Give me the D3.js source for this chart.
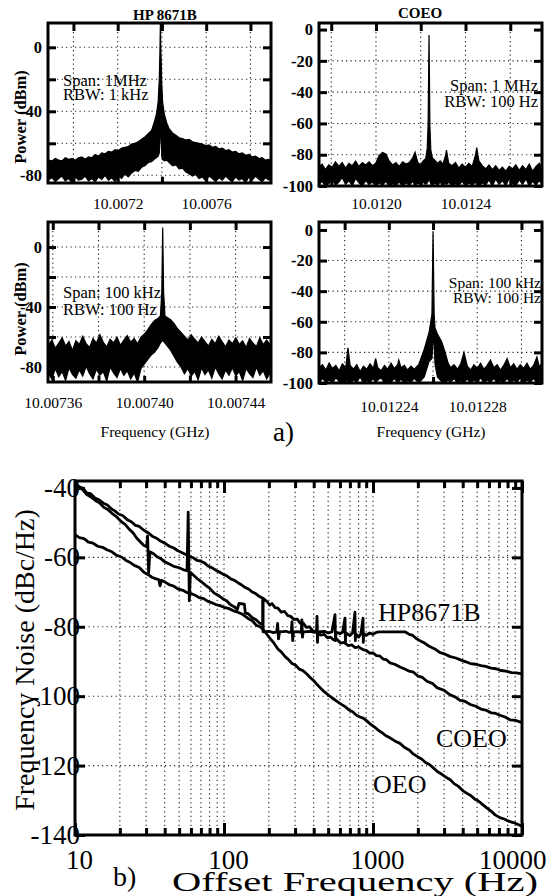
<!DOCTYPE html>
<html>
<head>
<meta charset="utf-8">
<script src="https://cdn.jsdelivr.net/npm/d3@7/dist/d3.min.js"></script>
<style>
  body { margin: 0; background: #fff; }
  svg { display: block; }
  text { font-family: "Liberation Serif", "Times New Roman", serif; fill: #000; }
</style>
</head>
<body>
<svg id="fig" width="548" height="896"></svg>
<script>
// ---------- a) spectrum analyser traces ----------
// rows: [offset from carrier in kHz, upper edge of the noisy trace, lower edge] (dBm)
var hpWideCarrier = 10.007393;
var hpWide = [[-508,-70.5,-83],[-490,-71,-81.5],[-475,-69.5,-84],[-460,-70.5,-82],[-445,-71,-80.5],[-430,-69,-83.5],[-415,-70,-82],[-400,-69.5,-84.5],[-385,-70.5,-81],[-370,-69,-83],[-355,-68.5,-82.5],[-340,-70,-80.5],[-325,-68.5,-83.5],[-310,-69,-82],[-295,-67,-84],[-280,-68,-81],[-265,-66,-82.5],[-250,-66.5,-80],[-235,-65,-83],[-220,-65.5,-81.5],[-205,-64,-84],[-190,-64.5,-80.5],[-175,-63,-82],[-160,-62.5,-79],[-145,-62,-81],[-130,-60.5,-78.5],[-115,-60,-77],[-100,-59,-77.5],[-85,-57.5,-75],[-70,-56,-74],[-55,-54,-72],[-40,-52,-71.5],[-28,-47,-70],[-18,-42,-69],[-10,-34,-68],[-5,-20,-66],[-2,-2,-60],[0,15,-55],[2,-2,-44],[4,-10,-46],[6,-22,-68],[10,-34,-70],[18,-42,-71],[28,-47,-70.5],[40,-51,-72],[55,-53.5,-74],[70,-55,-73.5],[85,-56.5,-76],[100,-57,-75.5],[115,-58,-78],[130,-57.5,-79],[145,-59,-80.5],[160,-59.5,-79.5],[175,-60,-82],[190,-60.5,-81],[205,-61.5,-83.5],[220,-61,-80.5],[235,-62.5,-82],[250,-62,-84],[265,-63.5,-81.5],[280,-63,-83],[295,-64.5,-80.5],[310,-64,-82.5],[325,-65.5,-84],[340,-65,-81],[355,-66.5,-83],[370,-66,-82],[385,-67.5,-84.5],[400,-67,-81],[415,-68.5,-83],[430,-68,-80.5],[445,-69.5,-82.5],[460,-69,-84],[475,-70.5,-81.5],[490,-70,-83],[500,-71.5,-82]];

var coeoWideCarrier = 10.012237;
var coeoWide = [[-492,-88,-99],[-478,-86,-97],[-463,-89.5,-100],[-448,-86.5,-98.5],[-433,-88,-96],[-418,-84.5,-99.5],[-403,-87.5,-97.5],[-388,-85,-94.5],[-373,-88.5,-99],[-358,-85.5,-96.5],[-343,-87,-100],[-328,-84,-95],[-313,-87.5,-98],[-298,-85,-100],[-283,-86.5,-96.5],[-268,-84.5,-99],[-253,-87,-97.5],[-238,-85.5,-100],[-223,-80.5,-98],[-208,-78.5,-99.5],[-193,-79.5,-97],[-178,-84,-100],[-163,-86.5,-98.5],[-148,-85,-99.5],[-133,-87.5,-97.5],[-118,-84.5,-100],[-103,-86,-98],[-88,-85,-99.5],[-73,-82,-97],[-62,-78.5,-100],[-50,-85,-98],[-38,-86.5,-99.5],[-26,-84,-97.5],[-15,-82.5,-99],[-8,-76,-98],[-4,-60,-97],[-1.5,-25,-96],[0,-3.5,-95],[1.5,-25,-96],[4,-62,-97],[8,-77,-98.5],[15,-82,-100],[26,-83.5,-98],[38,-85.5,-99.5],[50,-84,-97.5],[62,-86,-100],[73,-81,-98],[78,-77,-99],[88,-85.5,-97.5],[103,-87,-100],[118,-85,-98.5],[133,-88.5,-99.5],[148,-86,-97],[163,-88,-100],[178,-85.5,-98],[193,-87.5,-99.5],[208,-80,-97.5],[213,-75.5,-99],[223,-84,-100],[238,-87,-98],[253,-89,-99.5],[268,-86.5,-96],[283,-89.5,-100],[298,-87,-95.5],[313,-90,-99],[328,-88,-96.5],[343,-90.5,-100],[358,-87.5,-95],[373,-89,-98.5],[388,-86.5,-100],[403,-90,-96],[418,-87,-99],[433,-89.5,-95.5],[448,-86,-100],[463,-90.5,-97],[478,-87.5,-99.5],[493,-85.5,-96.5],[505,-89,-99]];

var hpNarrowCarrier = 10.0074081;
var hpNarrow = [[-50.2,-66,-84],[-48.5,-62,-88],[-47,-67.5,-81],[-45.5,-64,-86.5],[-44,-60.5,-83],[-42.5,-66,-89],[-41,-63,-80.5],[-39.5,-69,-85],[-38,-62.5,-87.5],[-36.5,-65,-82],[-35,-59.5,-86],[-33.5,-64.5,-79.5],[-32,-67,-84.5],[-30.5,-61,-88],[-29,-64,-81.5],[-27.5,-58.5,-85.5],[-26,-63.5,-83],[-24.5,-66.5,-89.5],[-23,-61.5,-80],[-21.5,-64,-84],[-20,-60,-87],[-18.5,-65.5,-81],[-17,-62,-85.5],[-15.5,-59,-82.5],[-14,-63.5,-88],[-12.5,-61,-84],[-11,-64.5,-90],[-9.5,-60,-81],[-8,-58,-78],[-6.5,-55,-75],[-5,-51.5,-72],[-3.5,-49,-70],[-2,-47.5,-67],[-1,-46,-64],[-0.4,-30,-63],[0,13,-62],[0.4,-30,-63],[1,-46,-64],[2,-47,-66],[3.5,-48.5,-69],[5,-51,-73],[6.5,-54.5,-77],[8,-57,-80],[9.5,-59.5,-84.5],[11,-62,-81],[12.5,-58.5,-86],[14,-61.5,-83],[15.5,-64,-88.5],[17,-60,-80.5],[18.5,-63,-85],[20,-66,-82],[21.5,-61.5,-87.5],[23,-64.5,-80],[24.5,-59.5,-84.5],[26,-63,-88],[27.5,-66.5,-82],[29,-62,-85.5],[30.5,-64.5,-80.5],[32,-60.5,-86],[33.5,-65,-83],[35,-62.5,-89],[36.5,-67,-81],[38,-61,-84.5],[39.5,-64,-87],[41,-66.5,-80],[42.5,-60.5,-85.5],[44,-65,-82.5],[45.5,-62,-88],[47.4,-66,-83]];

var coeoNarrowCarrier = 10.01226;
var coeoNarrow = [[-51.6,-90,-100],[-50,-88,-97],[-48.5,-91.5,-99.5],[-47,-87,-98],[-45.5,-90.5,-100],[-44,-88.5,-96.5],[-42.5,-92,-99],[-41,-87.5,-100],[-39.5,-90,-97.5],[-38.5,-77,-99],[-37.5,-88.5,-100],[-36,-91,-98],[-34.5,-88,-99.5],[-33,-92.5,-96],[-31.5,-89,-100],[-30,-91,-98.5],[-28.5,-87.5,-99.5],[-27,-90.5,-97],[-26,-84,-100],[-25,-90,-98],[-23.5,-92,-96.5],[-22,-88.5,-100],[-20.5,-91,-98.5],[-19,-87,-99.5],[-17.5,-90.5,-97],[-16,-88,-100],[-15.5,-85,-99],[-14.5,-90,-97.5],[-13,-88.5,-100],[-11.5,-91.5,-98.5],[-10,-89,-99.5],[-8.5,-91,-97],[-6.5,-88,-100],[-4,-78,-96],[-1.8,-67,-86],[-0.5,-55,-84],[0,-1.3,-72],[0.5,-55,-74],[0.9,-64,-88],[2,-68,-96],[3.9,-73,-99],[5.5,-80,-100],[6.8,-87,-98],[8,-90,-99.5],[9.5,-88,-97],[11,-91,-100],[12.5,-87.5,-98.5],[14,-80,-99.5],[15.5,-89,-97.5],[17,-91.5,-100],[18.5,-88,-98],[20,-90.5,-99.5],[21.5,-87,-96.5],[23,-91,-100],[24.5,-88.5,-98],[26,-85,-99.5],[27.5,-90,-97],[29,-88,-100],[30.5,-91.5,-98.5],[32,-88.5,-99.5],[33.5,-84,-97],[35,-90,-100],[36.5,-87.5,-98],[38,-91,-99.5],[39.5,-88,-96.5],[41,-90.5,-100],[42.5,-87,-98],[44,-91,-99.5],[45.5,-88.5,-97],[47,-83,-100],[48,-89,-98.5],[49.3,-87.5,-99.5]];

// axis ticks (GHz / dBm)
var hpWideTicks = [10.0070, 10.0072, 10.0074, 10.0076, 10.0078];
var hpWideLabels = [10.0072, 10.0076];
var coeoWideTicks = [10.0118, 10.0120, 10.0122, 10.0124, 10.0126];
var coeoWideLabels = [10.0120, 10.0124];
var hpNarrowTicks = [10.00736, 10.00738, 10.00740, 10.00742, 10.00744];
var hpNarrowLabels = [10.00736, 10.00740, 10.00744];
var coeoNarrowTicks = [10.01222, 10.01224, 10.01226, 10.01228, 10.01230];
var coeoNarrowLabels = [10.01224, 10.01228];
var hpPowerTicks = [0, -20, -40, -60, -80];
var hpPowerLabels = [0, -40, -80];
var coeoPowerTicks = [0, -20, -40, -60, -80, -100];
var coeoPowerGrid = [-20, -40, -60, -80];

// ---------- b) frequency noise, [offset Hz, dBc/Hz] ----------
var hpNoise = [[10,-38.5],[10.6,-39.6],[11.3,-40.1],[12,-41.4],[12.8,-41.7],[13.6,-42.9],[14.5,-43.4],[15.5,-44.4],[16.5,-44.9],[17.5,-46],[18.5,-46.6],[19.6,-47.5],[21,-48],[22.5,-49.2],[24,-49.8],[25.5,-50.8],[27,-51.1],[29,-52.2],[31,-52.9],[33,-53.9],[35,-54.4],[37.5,-55.3],[40,-55.9],[43,-56.8],[46,-57.3],[49,-58.1],[52,-58.6],[55,-59.1],[58.5,-59.7],[62,-60.1],[66,-60.9],[70,-61.1],[74,-61.6],[78,-62.5],[83,-63],[88,-63.7],[93,-64.2],[99,-64.9],[105,-65.4],[111,-66.2],[117,-66.6],[124,-67.3],[131,-67.9],[139,-68.7],[147,-69.2],[155,-70],[164,-70.5],[173,-71.3],[182,-71.8],
  [183,-81.5],[200,-81.3],[215,-81.7],[226,-81.5],[229,-79],[232,-83.5],[236,-81.5],[260,-81.3],[275,-81.6],[283,-81.5],[286,-78.5],[289,-84],[293,-81.5],[315,-81.4],[330,-81.6],[333,-78],[336,-83],[340,-81.5],[380,-81.3],[405,-81.6],[418,-81.5],[421,-77],[424,-84.5],[428,-81.5],[470,-81.3],[500,-81.8],[530,-81.5],[556,-76.5],[560,-84],[565,-81.5],[600,-82],[625,-81.6],[649,-77.5],[653,-84.5],[658,-81.8],[700,-82.5],[730,-81.7],[757,-75.8],[761,-84],[766,-82],[800,-83],[830,-82],[857,-77.5],[861,-84.5],[866,-82],[900,-82.5],[950,-81.8],[1000,-82.2],[1050,-81.6],[1100,-81.5],[1300,-81.5],[1500,-81.5],
  [1650,-81.5],[1750,-82.2],[1850,-82.5],[1950,-83.4],[2065,-84],[2200,-84.6],[2400,-85.7],[2600,-86.4],[2800,-87.4],[3050,-87.9],[3300,-88.6],[3600,-89],[3900,-89.6],[4200,-90.1],[4500,-90.6],[4900,-90.8],[5300,-91.2],[5700,-91.4],[6200,-91.9],[6700,-92.1],[7200,-92.6],[7800,-92.8],[8500,-93.2],[9200,-93.3],[10000,-93.6]];
var coeoNoise = [[10,-38.5],[10.5,-39.8],[11.2,-40.4],[12,-41.9],[12.8,-42.6],[13.7,-43.6],[14.6,-44.3],[15.6,-45.6],[16.6,-46.2],[17.7,-47.3],[19,-48.3],[20.3,-49.6],[21.7,-50.5],[23,-51.8],[24.5,-52.9],[26,-54.5],[27.5,-55.6],[29,-56.6],[30.3,-56.9],[30.7,-53.8],[31.2,-64.5],[31.8,-58.4],[33.5,-58.9],[35.5,-59.8],[37.5,-60.3],[40,-61.3],[43,-61.9],[46,-62.6],[50,-63],[53.5,-63.6],[56.5,-63.8],[57.5,-47],[58.5,-72.5],[59.5,-64.3],[62,-65],[66,-66.1],[70,-66.9],[75,-68],[80,-68.9],[86,-70.3],[92,-71],[98,-71.9],[104,-72.5],[110,-73.6],[117,-74.2],[123,-75],[126,-73.3],[137,-73.5],[139,-76],[146,-76.3],[155,-77.4],[164,-78],[173,-78.9],[182,-79.4],
  [183,-71.8],[195,-72.8],[203,-73.8],[210,-73.3],[220,-74.5],[230,-74.6],[242,-75.8],[255,-75.6],[268,-76.8],[280,-77],[295,-77.9],[310,-77.8],[325,-79],[339,-78.9],[357,-80.2],[375,-80],[395,-81.2],[420,-81.4],[445,-82.4],[470,-82.2],[495,-83.2],[520,-83],[545,-83.8],[573,-83.6],[605,-84.7],[640,-84.5],[680,-85.4],[720,-85.2],[760,-86],[800,-85.8],[857,-86.6],[900,-86.8],[950,-87.6],[1000,-87.5],[1050,-88.3],[1110,-88.4],[1170,-89.3],[1230,-89.5],[1300,-90.4],[1400,-90.8],[1517,-91.6],[1620,-92.1],[1750,-92.8],[1870,-93.1],[2000,-94.2],[2150,-94.6],[2300,-95.7],[2500,-96.3],[2700,-97.6],[3000,-98.3],[3290,-99.6],[3550,-100.2],[3840,-101.2],[4150,-101.5],[4500,-102.4],[4900,-102.9],[5300,-103.7],[5700,-104],[6200,-104.8],[6600,-104.9],[7100,-105.5],[7700,-106],[8300,-106.8],[9100,-107],[10000,-107.6]];
var oeoNoise = [[10,-53.5],[10.7,-54.3],[11.5,-54.6],[12.3,-55.6],[13.2,-55.9],[14.2,-56.8],[15.3,-57.1],[16.5,-57.9],[17.7,-58.4],[19,-59.4],[20.5,-59.9],[22,-60.9],[23.5,-61.5],[25,-62.3],[27,-62.9],[29,-64.3],[31,-65],[33,-65.8],[35,-66.2],[36.5,-66.4],[37.2,-68.2],[38,-66.6],[40.5,-67.2],[43,-67.9],[46,-68.3],[49,-69.1],[53,-69.5],[56,-70.1],[60,-70.4],[64,-70.9],[68,-71.6],[73,-71.9],[78,-72.7],[83,-73.1],[88,-73.6],[94,-73.9],[100,-74.4],[107,-74.7],[116,-75.4],[124,-75.8],[132,-76.3],[145,-77.6],[155,-78.3],[165,-79.6],[175,-80],[185,-81],[195,-82.3],[205,-83.5],[217,-84.8],[230,-86.4],[243,-87.3],[257,-88.6],[270,-89.4],[286,-90.6],[303,-91.1],[320,-92.2],[340,-92.7],[360,-93.6],[380,-94.7],[400,-95.5],[420,-96.6],[441,-97.5],[470,-98.7],[500,-99.6],[535,-100.6],[573,-101.5],[610,-102.3],[650,-103],[690,-104],[730,-104.5],[775,-105.5],[820,-106],[865,-106.4],[912,-107.2],[970,-108.2],[1030,-109],[1090,-109.9],[1150,-110.5],[1220,-111.4],[1300,-112],[1400,-112.9],[1517,-113.6],[1630,-114.8],[1750,-115.5],[1870,-116.7],[2000,-117.5],[2120,-118.1],[2250,-119.1],[2380,-119.6],[2530,-120.6],[2700,-121.7],[2900,-122.5],[3100,-123.4],[3300,-124.1],[3500,-125.2],[3750,-126],[4000,-127.2],[4275,-128],[4550,-128.7],[4800,-129.6],[5100,-130.2],[5400,-131.1],[5800,-132.2],[6200,-133.1],[6600,-134.2],[7100,-135],[7600,-135.4],[8200,-136.1],[9000,-136.6],[10000,-137.5]];

var noiseMajorTicks = [10, 100, 1000, 10000];
var noiseMinorTicks = [20,30,40,50,60,70,80,90,200,300,400,500,600,700,800,900,2000,3000,4000,5000,6000,7000,8000,9000];
var noiseDbTicks = [-140, -120, -100, -80, -60, -40];

var svg = d3.select("#fig");
var serif = '"Liberation Serif", "Times New Roman", serif';

function inList(list, d) {
  return list.some(function(l) { return Math.abs(l - d) < 1e-9; });
}

function cleanAxis(g, size, weight) {
  g.attr("font-family", null).attr("font-size", null);
  g.select(".domain").remove();
  g.selectAll(".tick line").attr("stroke", "#000").attr("stroke-width", 3);
  g.selectAll(".tick text").attr("font-family", serif).attr("font-size", size)
    .attr("font-weight", weight || "normal").attr("fill", "#000");
}

function dotted(sel) {
  sel.attr("stroke", "#222").attr("stroke-width", 1.1).attr("stroke-dasharray", "1.2,3.3");
}

function drawSpectrum(p) {
  var x = d3.scaleLinear().domain(p.xDomain).range([p.left, p.right]);
  var y = d3.scaleLinear().domain(p.yDomain).range([p.bottom, p.top]);
  var g = svg.append("g");
  var cid = "clip-" + p.id;
  svg.append("clipPath").attr("id", cid).append("rect")
    .attr("x", p.left).attr("y", p.top)
    .attr("width", p.right - p.left).attr("height", p.bottom - p.top);

  // dotted grid
  g.selectAll("line.gx").data(p.xTicks).enter().append("line")
    .attr("x1", function(d) { return x(d); }).attr("x2", function(d) { return x(d); })
    .attr("y1", p.top).attr("y2", p.bottom).call(dotted);
  g.selectAll("line.gy").data(p.yGrid).enter().append("line")
    .attr("y1", function(d) { return y(d); }).attr("y2", function(d) { return y(d); })
    .attr("x1", p.left).attr("x2", p.right).call(dotted);

  // the trace, drawn as the band between its lower and upper edge
  g.append("path").datum(p.rows)
    .attr("clip-path", "url(#" + cid + ")")
    .attr("d", d3.area()
      .x(function(d) { return x(p.carrier + d[0] * 1e-6); })
      .y0(function(d) { return y(d[2]); })
      .y1(function(d) { return y(d[1]); }))
    .attr("fill", "#000").attr("stroke", "#000").attr("stroke-width", 1.2);

  // ticks
  g.append("g").attr("transform", "translate(0," + p.top + ")")
    .call(d3.axisTop(x).tickValues(p.xTicks).tickSize(-8).tickFormat(""))
    .call(cleanAxis, 12);
  g.append("g").attr("transform", "translate(0," + p.bottom + ")")
    .call(d3.axisBottom(x).tickValues(p.xTicks).tickSize(-6).tickPadding(p.labelPad)
      .tickFormat(function(d) { return inList(p.xLabels, d) ? d3.format(p.fmt)(d) : ""; }))
    .call(cleanAxis, 15.5);
  g.append("g").attr("transform", "translate(" + p.left + ",0)")
    .call(d3.axisLeft(y).tickValues(p.yTicks).tickSize(-8).tickPadding(p.yPad)
      .tickFormat(function(d) { return inList(p.yLabels, d) ? String(d) : ""; }))
    .call(cleanAxis, 16.5, "bold");
  g.append("g").attr("transform", "translate(" + p.right + ",0)")
    .call(d3.axisRight(y).tickValues(p.yTicks).tickSize(-8).tickFormat(""))
    .call(cleanAxis, 12);

  // frame
  g.append("rect").attr("x", p.left).attr("y", p.top)
    .attr("width", p.right - p.left).attr("height", p.bottom - p.top)
    .attr("fill", "none").attr("stroke", "#000").attr("stroke-width", 3);

  // span / rbw note
  var note = g.append("text").attr("font-size", p.noteSize).attr("text-anchor", p.noteAnchor);
  p.note.forEach(function(line, i) {
    note.append("tspan").attr("x", p.noteX).attr("y", p.noteY[i]).text(line);
  });
}

var panels = [
  { id: "hpw", left: 48, right: 271, top: 23, bottom: 183,
    xDomain: [10.006885, 10.007893], yDomain: [-84.8, 15.2],
    carrier: hpWideCarrier, rows: hpWide,
    xTicks: hpWideTicks, xLabels: hpWideLabels, fmt: ".4f", labelPad: 15,
    yTicks: hpPowerTicks, yLabels: hpPowerLabels, yGrid: hpPowerTicks, yPad: 6,
    note: ["Span: 1MHz", "RBW: 1 kHz"], noteX: 63, noteY: [86, 100], noteAnchor: "start", noteSize: 16.5 },
  { id: "coeow", left: 319, right: 542, top: 23, bottom: 186,
    xDomain: [10.0117453, 10.0127419], yDomain: [-100, 4.2],
    carrier: coeoWideCarrier, rows: coeoWide,
    xTicks: coeoWideTicks, xLabels: coeoWideLabels, fmt: ".4f", labelPad: 12,
    yTicks: coeoPowerTicks, yLabels: coeoPowerTicks, yGrid: coeoPowerGrid, yPad: 6,
    note: ["Span: 1 MHz", "RBW: 100 Hz"], noteX: 538, noteY: [91, 107], noteAnchor: "end", noteSize: 16.5 },
  { id: "hpn", left: 48, right: 271, top: 222, bottom: 382,
    xDomain: [10.0073579, 10.0074555], yDomain: [-90, 16.7],
    carrier: hpNarrowCarrier, rows: hpNarrow,
    xTicks: hpNarrowTicks, xLabels: hpNarrowLabels, fmt: ".5f", labelPad: 15,
    yTicks: hpPowerTicks, yLabels: hpPowerLabels, yGrid: hpPowerTicks, yPad: 6,
    note: ["Span: 100 kHz", "RBW: 100 Hz"], noteX: 63, noteY: [298, 315], noteAnchor: "start", noteSize: 16.5 },
  { id: "coeon", left: 319, right: 542, top: 222, bottom: 383,
    xDomain: [10.0122084, 10.0123093], yDomain: [-100, 5.2],
    carrier: coeoNarrowCarrier, rows: coeoNarrow,
    xTicks: coeoNarrowTicks, xLabels: coeoNarrowLabels, fmt: ".5f", labelPad: 18,
    yTicks: coeoPowerTicks, yLabels: coeoPowerTicks, yGrid: coeoPowerGrid, yPad: 6,
    note: ["Span: 100 kHz", "RBW: 100 Hz"], noteX: 541, noteY: [288, 303], noteAnchor: "end", noteSize: 15.5 }
];
panels.forEach(drawSpectrum);

// panel titles and axis names of part a)
svg.append("text").attr("x", 165).attr("y", 20).attr("text-anchor", "middle")
  .attr("font-size", 15).attr("font-weight", "bold").text("HP 8671B");
svg.append("text").attr("x", 420).attr("y", 18).attr("text-anchor", "middle")
  .attr("font-size", 15).attr("font-weight", "bold").text("COEO");
[117, 309].forEach(function(cy) {
  svg.append("text").attr("transform", "translate(26," + cy + ") rotate(-90)")
    .attr("text-anchor", "middle").attr("font-size", 16.5).attr("font-weight", "bold")
    .text("Power (dBm)");
});
svg.append("text").attr("x", 155).attr("y", 437).attr("text-anchor", "middle")
  .attr("font-size", 15.5).text("Frequency (GHz)");
svg.append("text").attr("x", 431).attr("y", 437).attr("text-anchor", "middle")
  .attr("font-size", 15.5).text("Frequency (GHz)");
svg.append("text").attr("x", 273).attr("y", 441).attr("font-size", 27).text("a)");

// ---------- part b) ----------
var bx = d3.scaleLog().domain([10, 10000]).range([75, 522]);
var by = d3.scaleLinear().domain([-140, -38]).range([835, 481]);
var gb = svg.append("g");

gb.selectAll("line.vg").data(noiseMinorTicks.concat([100, 1000])).enter().append("line")
  .attr("x1", function(d) { return bx(d); }).attr("x2", function(d) { return bx(d); })
  .attr("y1", by.range()[0]).attr("y2", by.range()[1]).call(dotted);
gb.selectAll("line.hg").data(noiseDbTicks.slice(1, -1)).enter().append("line")
  .attr("y1", function(d) { return by(d); }).attr("y2", function(d) { return by(d); })
  .attr("x1", bx.range()[0]).attr("x2", bx.range()[1]).call(dotted);

var noiseLine = d3.line().x(function(d) { return bx(d[0]); }).y(function(d) { return by(d[1]); });
[hpNoise, coeoNoise, oeoNoise].forEach(function(series) {
  gb.append("path").datum(series).attr("d", noiseLine)
    .attr("fill", "none").attr("stroke", "#000").attr("stroke-width", 2.8)
    .attr("stroke-linejoin", "round");
});

gb.append("g").attr("transform", "translate(0," + by.range()[0] + ")")
  .call(d3.axisBottom(bx).tickValues(noiseMinorTicks).tickSize(-7).tickFormat(""))
  .call(cleanAxis, 12);
var xMajor = gb.append("g").attr("transform", "translate(0," + by.range()[0] + ")")
  .call(d3.axisBottom(bx).tickValues(noiseMajorTicks).tickSize(-12).tickPadding(15)
    .tickFormat(function(d) { return String(d); }))
  .call(cleanAxis, 27);
xMajor.selectAll(".tick text").attr("dx", 4);
// the last label sits flush with the right border of the figure
xMajor.selectAll(".tick text").filter(function(d) { return d === 10000; })
  .attr("text-anchor", "end").attr("dx", 24);
gb.append("g").attr("transform", "translate(0," + by.range()[1] + ")")
  .call(d3.axisTop(bx).tickValues(noiseMinorTicks).tickSize(-7).tickFormat(""))
  .call(cleanAxis, 12);
gb.append("g").attr("transform", "translate(0," + by.range()[1] + ")")
  .call(d3.axisTop(bx).tickValues(noiseMajorTicks).tickSize(-12).tickFormat(""))
  .call(cleanAxis, 12);
gb.append("g").attr("transform", "translate(" + bx.range()[0] + ",0)")
  .call(d3.axisLeft(by).tickValues(noiseDbTicks).tickSize(-10).tickPadding(-5)
    .tickFormat(function(d) { return String(d); }))
  .call(cleanAxis, 27);
gb.append("g").attr("transform", "translate(" + bx.range()[1] + ",0)")
  .call(d3.axisRight(by).tickValues(noiseDbTicks).tickSize(-10).tickFormat(""))
  .call(cleanAxis, 12);

gb.append("rect").attr("x", bx.range()[0]).attr("y", by.range()[1])
  .attr("width", bx.range()[1] - bx.range()[0]).attr("height", by.range()[0] - by.range()[1])
  .attr("fill", "none").attr("stroke", "#000").attr("stroke-width", 3);

gb.append("text").attr("x", 378).attr("y", 621).attr("font-size", 26).text("HP8671B");
gb.append("text").attr("x", 436).attr("y", 747).attr("font-size", 26).text("COEO");
gb.append("text").attr("x", 373).attr("y", 793).attr("font-size", 26).text("OEO");

svg.append("text").attr("transform", "translate(34,660) rotate(-90)")
  .attr("text-anchor", "middle").attr("font-size", 28).text("Frequency Noise (dBc/Hz)");
svg.append("text").attr("x", 113).attr("y", 886).attr("font-size", 28).text("b)");
svg.append("text").attr("x", 172).attr("y", 891).attr("font-size", 28)
  .attr("textLength", 366).attr("lengthAdjust", "spacingAndGlyphs")
  .text("Offset Frequency (Hz)");
</script>
</body>
</html>
